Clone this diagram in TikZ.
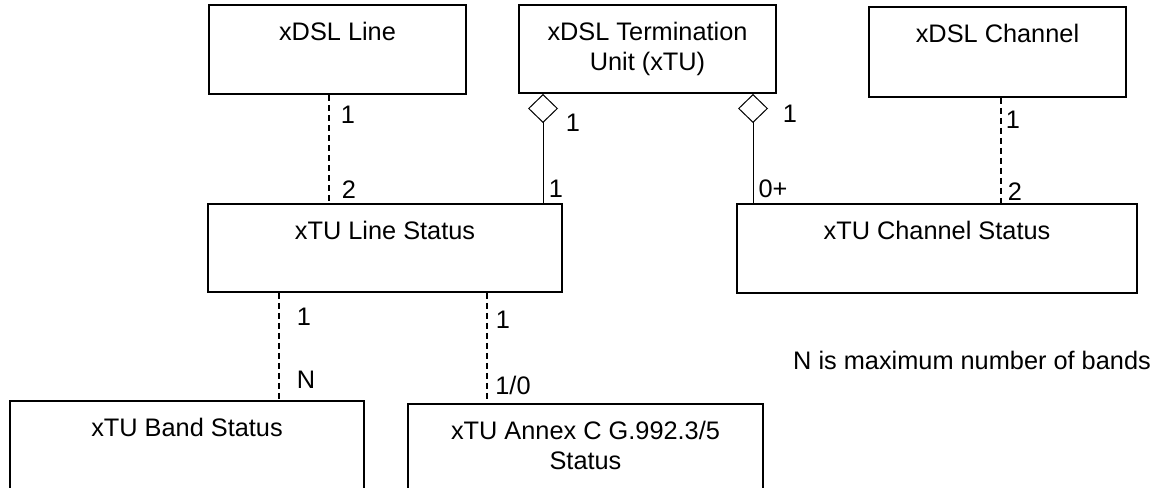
\documentclass[tikz,border=0pt]{standalone}
\usepackage{fontspec}
\setmainfont{Liberation Sans}
\usetikzlibrary{arrows.meta}

\tikzset{every picture/.style={line width=0.75pt}}
\tikzset{
  box/.style={draw, line width=1.5pt, inner sep=0pt, minimum height=66pt},
  boxtext/.style={anchor=north, inner sep=0pt, align=center, font=\fontsize{19}{22}\selectfont},
  mult/.style={inner sep=0pt, font=\fontsize{19}{22}\selectfont},
  dashlink/.style={line width=1.5pt, dash pattern=on 4.5pt off 3pt},
  agglink/.style={line width=0.75pt, -{Diamond[open, length=21.75pt, width=22.5pt]}},
}

\begin{document}
\begin{tikzpicture}[x=0.75pt,y=0.75pt,yscale=-1,xscale=1]
\useasboundingbox (0,0) rectangle (1168,488);
\clip (0,0) rectangle (1168,488);

%Shape: Rectangle [xDSL Line]
\node[box, minimum width=192.75pt, minimum height=66.75pt] (line) at (337.5,49.5) {};
%Shape: Rectangle [xTU]
\node[box, minimum width=192.75pt] (xtu) at (647.5,49) {};
%Shape: Rectangle [xDSL Channel]
\node[box, minimum width=192.75pt, minimum height=67.5pt] (chan) at (997.5,52) {};
%Shape: Rectangle [xTU Line Status]
\node[box, minimum width=265.5pt] (lstat) at (385,248) {};
%Shape: Rectangle [xTU Channel Status]
\node[box, minimum width=300pt, minimum height=66.75pt] (cstat) at (937,248.5) {};
%Shape: Rectangle [xTU Band Status]
\node[box, minimum width=265.5pt] (band) at (187,445) {};
%Shape: Rectangle [xTU Annex C]
\node[box, minimum width=266.25pt] (annex) at (585.5,448) {};

% Text Node
\path (line.north) ++(0,18) node[boxtext] (lineT) {xDSL Line};
% Text Node
\path (xtu.north) ++(0,18) node[boxtext] (xtuT) {xDSL Termination\\Unit (xTU)};
% Text Node
\path (chan.north) ++(0,18) node[boxtext] (chanT) {xDSL Channel};
% Text Node
\path (lstat.north) ++(0,18) node[boxtext] (lstatT) {xTU Line Status};
% Text Node
\path (cstat.north) ++(0,18) node[boxtext] (cstatT) {xTU Channel Status};
% Text Node
\path (band.north) ++(0,18) node[boxtext] (bandT) {xTU Band Status};
% Text Node
\path (annex.north) ++(0,18) node[boxtext] (annexT) {xTU Annex C G.992.3/5\\Status};

%Straight Lines
\coordinate (dl) at (329,150);
\coordinate (ag1) at (543,150);
\coordinate (ag2) at (753,150);
\coordinate (dc) at (1001,150);
\coordinate (db) at (279,350);
\coordinate (da) at (487,350);
\draw[dashlink] (line.south -| dl) -- (lstat.north -| dl);
\draw[agglink] (lstat.north -| ag1) -- (xtu.south -| ag1);
\draw[agglink] (cstat.north -| ag2) -- (xtu.south -| ag2);
\draw[dashlink] (chan.south -| dc) -- (cstat.north -| dc);
\draw[dashlink] (lstat.south -| db) -- (band.north -| db);
\draw[dashlink] (lstat.south -| da) -- (annex.north -| da);

% Text Node
\node[mult] (m1) at (348,115) {1};
\node[mult] (m2) at (349,190) {2};
\node[mult] (m3) at (573,123) {1};
\node[mult] (m4) at (556,189) {1};
\node[mult] (m5) at (790,114) {1};
\node[mult] (m6) at (773,189) {0+};
\node[mult] (m7) at (1013,120) {1};
\node[mult] (m8) at (1015,192) {2};
\node[mult] (m9) at (304,317) {1};
\node[mult] (m10) at (306,380) {N};
\node[mult] (m11) at (503,320) {1};
\node[mult] (m12) at (513,385) {1/0};
% Text Node
\node[mult] (note) at (972,360) {N is maximum number of bands};

\end{tikzpicture}
\end{document}
